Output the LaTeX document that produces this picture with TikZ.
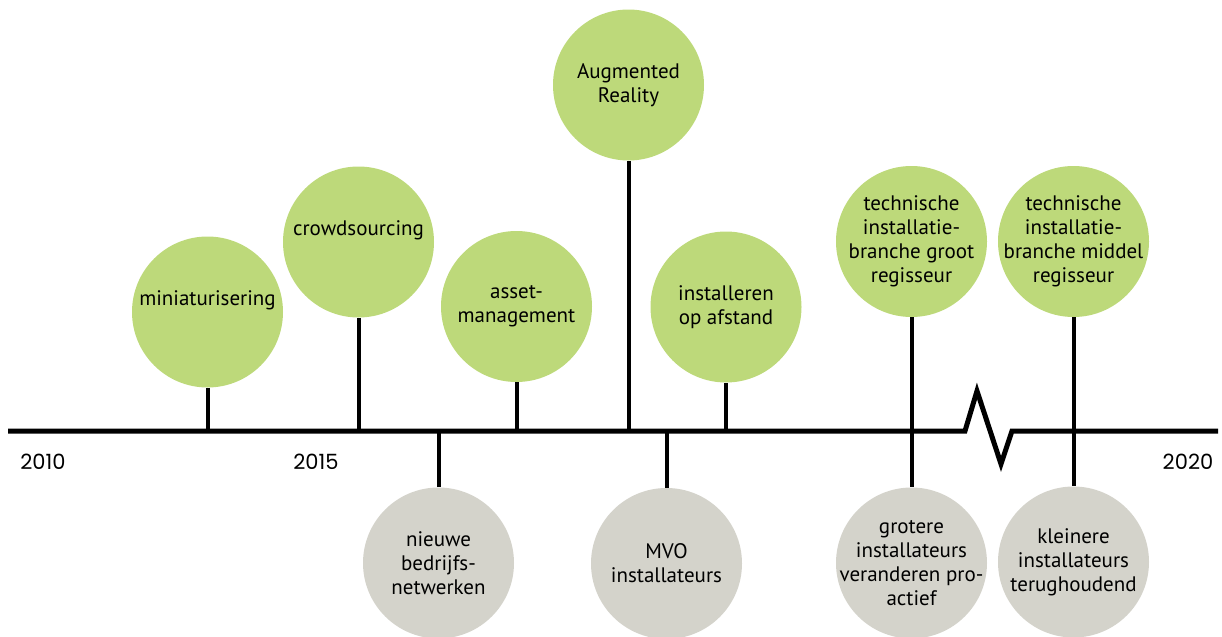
\documentclass[tikz,border=0pt]{standalone}
\usepackage{fontspec}
\setmainfont{PT Sans}
\newfontfamily\yearfont{Poppins}

\definecolor{bubblegreen}{RGB}{189,217,122}
\definecolor{bubblegrey}{RGB}{212,211,203}

\tikzset{
  bubble/.style={circle, inner sep=-5pt, minimum size=75.5pt, align=center,
    font=\fontsize{10.5}{12}\selectfont},
  trend/.style={bubble, fill=bubblegreen},
  effect/.style={bubble, fill=bubblegrey},
  oneline/.style={text depth=14pt},
  stem/.style={line width=2pt},
  year/.style={font=\yearfont\fontsize{10.5}{12}\selectfont},
}

\begin{document}
\begin{tikzpicture}[x=0.5pt, y=-0.5pt]
  \useasboundingbox (0,0) rectangle (1222,637);

  % tijdlijn met onderbreking
  \coordinate (start) at (8,431);
  \coordinate (end) at (1218,431);
  \draw[line width=2.5pt] (start) -- (965,431) -- (977,391) -- (1001,464)
    -- (1012,431) -- (end);

  % jaartallen
  \node[year] (y2010) at (43,462) {2010};
  \node[year] (y2015) at (316,462) {2015};
  \node[year] (y2020) at (1188,462) {2020};

  % trends boven de lijn
  \node[trend, oneline] (mini) at (207.5,312) {miniaturisering};
  \node[trend, oneline] (crowd) at (358.5,242) {crowdsourcing};
  \node[trend] (asset) at (516.5,306.5) {asset-\\management};
  \node[trend] (ar) at (628.5,85) {Augmented\\Reality};
  \node[trend] (afstand) at (726,307) {installeren\\op afstand};
  \node[trend] (groot) at (911.5,241.5) {technische\\installatie-\\branche groot\\regisseur};
  \node[trend] (middel) at (1073.5,241.5) {technische\\installatie-\\branche middel\\regisseur};

  % gevolgen onder de lijn
  \node[effect] (netwerk) at (438.5,563) {nieuwe\\bedrijfs-\\netwerken};
  \node[effect] (mvo) at (666.5,563.5) {MVO\\installateurs};
  \node[effect] (grotere) at (911.5,563) {grotere\\installateurs\\veranderen pro-\\actief};
  \node[effect] (kleinere) at (1073.5,562) {kleinere\\installateurs\\terughoudend};

  % steeltjes
  \foreach \n in {mini, crowd, asset, ar, afstand}
    \draw[stem] (\n.south) -- (\n.south |- start);
  \foreach \n in {netwerk, mvo}
    \draw[stem] (\n.north) -- (\n.north |- start);
  \draw[stem] (groot.south) -- (grotere.north);
  \draw[stem] (middel.south) -- (kleinere.north);
\end{tikzpicture}
\end{document}
